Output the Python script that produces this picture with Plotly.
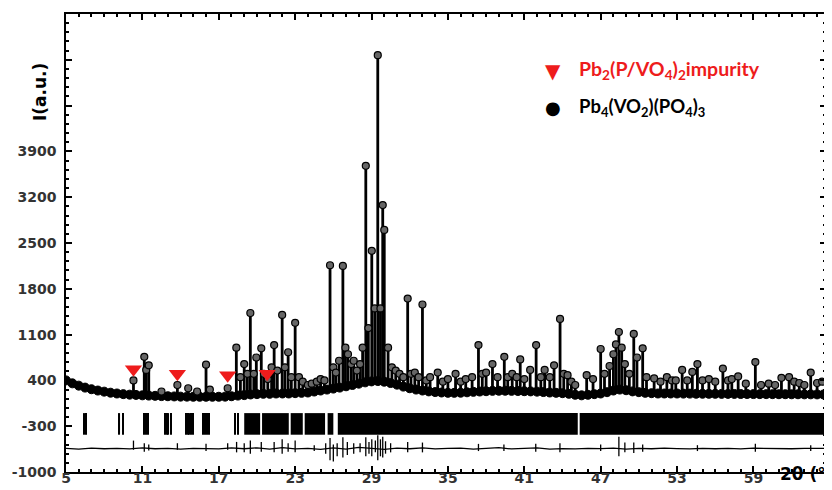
import plotly.graph_objects as go

# ---------------- axis ticks ----------------
x_tickvals = [5, 11, 17, 23, 29, 35, 41, 47, 53, 59]
y_tickvals = [-1000, -300, 400, 1100, 1800, 2500, 3200, 3900, 4600, 5300]
y_ticktext = ["-1000", "-300", "400", "1100", "1800", "2500", "3200", "3900", "", ""]

# ---------------- observed background band (2theta, intensity) ----------------
bg_2theta = [5.0, 5.5, 6.0, 6.5, 7.0, 7.5, 8.0, 8.5, 9.0, 9.5, 10.0, 10.5, 11.0, 11.5, 12.0, 12.5,
             13.0, 13.5, 14.0, 14.5, 15.0, 15.5, 16.0, 16.5, 17.0, 17.5, 18.0, 18.5, 19.0, 19.5,
             20.0, 20.5, 21.0, 21.5, 22.0, 22.5, 23.0, 23.5, 24.0, 24.5, 25.0, 25.5, 26.0, 26.5,
             27.0, 27.5, 28.0, 28.5, 29.0, 29.5, 30.0, 30.5, 31.0, 31.5, 32.0, 32.5, 33.0, 33.5,
             34.0, 34.5, 35.0, 35.5, 36.0, 36.5, 37.0, 37.5, 38.0, 38.5, 39.0, 39.5, 40.0, 40.5,
             41.0, 41.5, 42.0, 42.5, 43.0, 43.5, 44.0, 44.5, 45.0, 45.5, 46.0, 46.5, 47.0, 47.5,
             48.0, 48.5, 49.0, 49.5, 50.0, 50.5, 51.0, 51.5, 52.0, 52.5, 53.0, 53.5, 54.0, 54.5,
             55.0, 55.5, 56.0, 56.5, 57.0, 57.5, 58.0, 58.5, 59.0, 59.5, 60.0, 60.5, 61.0, 61.5,
             62.0, 62.5, 63.0, 63.5, 64.0, 64.5]
bg_counts = [400, 355, 320, 290, 265, 245, 228, 212, 200, 190, 182, 178, 172, 168, 164, 160,
             158, 155, 152, 152, 150, 150, 150, 150, 150, 152, 158, 168, 175, 185,
             190, 195, 195, 200, 200, 200, 205, 210, 215, 230, 245, 260, 275, 290,
             310, 330, 350, 370, 385, 390, 380, 360, 335, 305, 280, 260, 245, 232,
             222, 215, 210, 210, 212, 218, 225, 230, 235, 240, 242, 242, 240, 238,
             235, 232, 228, 222, 215, 210, 205, 195, 180, 172, 180, 190, 200, 220,
             245, 260, 250, 232, 220, 210, 205, 200, 200, 200, 200, 198, 198, 196,
             196, 195, 195, 194, 194, 193, 192, 192, 191, 190, 190, 190, 189, 189,
             188, 188, 187, 187, 186, 185]

# ---------------- observed Bragg peaks: position, top, foot ----------------
peak_2theta = [10.3, 11.15, 11.3, 11.5, 12.5, 13.75, 14.6, 15.3, 16.0, 16.3, 17.7, 18.38, 18.7,
               19.0, 19.25, 19.48, 19.75, 19.95, 20.34, 20.55, 20.85, 21.15, 21.35, 21.6, 21.98,
               22.2, 22.45, 22.7, 23.0, 23.3, 23.6, 24.0, 24.3, 24.7, 25.0, 25.3, 25.74, 26.0,
               26.2, 26.45, 26.75, 26.95, 27.15, 27.4, 27.6, 27.85, 28.1, 28.3, 28.55, 28.75,
               29.02, 29.25, 29.49, 29.7, 29.88, 30.0, 30.3, 30.6, 30.9, 31.2, 31.5, 31.84, 32.1,
               32.4, 32.7, 33.0, 33.3, 33.6, 34.2, 34.6, 35.0, 35.6, 36.0, 36.4, 36.9, 37.4, 37.7,
               38.0, 38.5, 38.9, 39.43, 39.7, 40.05, 40.4, 40.68, 41.0, 41.46, 41.93, 42.3, 42.6,
               43.0, 43.34, 43.81, 44.1, 44.4, 44.7, 45.0, 45.9, 46.4, 47.0, 47.3, 47.7, 48.0,
               48.2, 48.43, 48.65, 48.9, 49.25, 49.6, 49.85, 50.3, 50.6, 51.2, 51.7, 52.2, 52.6,
               52.9, 53.4, 53.8, 54.2, 54.6, 55.0, 55.5, 56.0, 56.6, 57.0, 57.3, 57.8, 58.4, 59.15,
               59.6, 60.2, 60.7, 61.2, 61.8, 62.2, 62.6, 63.0, 63.5, 64.0, 64.4]
peak_top = [400, 760, 560, 630, 230, 330, 280, 230, 640, 260, 280, 900, 450,
            650, 500, 1430, 500, 750, 890, 500, 420, 600, 940, 550, 1400,
            600, 830, 450, 1280, 450, 380, 330, 350, 380, 420, 400, 2160, 600,
            520, 700, 2150, 900, 800, 650, 700, 550, 650, 900, 3680, 1200,
            2380, 1500, 5370, 1500, 3080, 2700, 900, 600, 550, 500, 450, 1650, 500,
            520, 450, 1560, 400, 450, 520, 380, 420, 500, 380, 420, 450, 940, 500,
            520, 650, 450, 760, 450, 500, 450, 720, 420, 560, 940, 450, 560,
            450, 630, 1340, 500, 480, 380, 330, 480, 420, 880, 500, 620, 800,
            950, 1140, 900, 650, 500, 1110, 750, 890, 450, 430, 380, 450, 400,
            400, 560, 400, 530, 650, 400, 420, 380, 580, 400, 420, 460, 350, 680,
            330, 350, 330, 440, 450, 380, 360, 330, 520, 360, 380]
peak_base = [178, 170, 168, 168, 160, 155, 152, 150, 150, 150, 152, 165, 170,
             175, 180, 185, 188, 190, 193, 195, 195, 195, 198, 200, 200,
             200, 200, 200, 205, 208, 210, 215, 222, 238, 245, 252, 265, 275,
             280, 288, 300, 308, 315, 325, 335, 345, 355, 362, 370, 378,
             385, 388, 390, 388, 385, 380, 372, 360, 345, 330, 305, 285, 275,
             262, 252, 245, 238, 230, 222, 215, 210, 210, 212, 215, 222, 228, 232,
             235, 240, 242, 242, 242, 240, 238, 238, 235, 232, 228, 225, 220,
             215, 212, 208, 205, 198, 190, 180, 178, 185, 200, 210, 220, 245,
             250, 258, 255, 250, 240, 232, 225, 215, 210, 205, 200, 200, 200,
             200, 200, 198, 198, 196, 196, 195, 195, 194, 194, 193, 192, 192,
             191, 190, 190, 189, 189, 188, 188, 187, 187, 186, 185]

# ---------------- impurity markers ----------------
impurity_2theta = [10.3, 13.75, 17.7, 20.8]
impurity_counts = [570, 500, 480, 500]

# ---------------- Bragg reflection ticks ----------------
bragg_single = [6.45, 6.6, 9.2, 9.45, 11.12, 11.3, 11.45, 12.75, 12.9, 13.05, 13.22,
                14.4, 14.55, 14.7, 14.85, 15.0, 15.77, 15.9, 16.05, 16.2, 18.27, 18.52]
bragg_band_lo = [19.0, 20.4, 22.65, 23.75, 25.55, 26.35, 45.35]
bragg_band_hi = [20.25, 22.5, 23.6, 25.35, 26.0, 45.2, 64.7]
bragg_bottom, bragg_top = -430, -100

# ---------------- difference curve ----------------
diff_2theta = [5.0, 6.0, 7.0, 8.0, 9.0, 10.0, 11.0, 12.0, 13.0, 14.0, 15.0, 16.0, 17.0, 18.0,
               19.0, 20.0, 21.0, 22.0, 23.0, 24.0, 25.0, 26.0, 27.0, 28.0, 29.0, 30.0, 31.0,
               32.0, 33.0, 34.0, 35.0, 36.0, 37.0, 38.0, 39.0, 40.0, 41.0, 42.0, 43.0, 44.0,
               45.0, 46.0, 47.0, 48.0, 49.0, 50.0, 51.0, 52.0, 53.0, 54.0, 55.0, 56.0, 57.0,
               58.0, 59.0, 60.0, 61.0, 62.0, 63.0, 64.0, 64.7]
diff_counts = [-640, -650, -635, -645, -640, -648, -632, -645, -640, -650, -638, -642, -648, -632,
               -645, -630, -650, -628, -648, -640, -655, -630, -650, -625, -640, -655, -635,
               -645, -632, -648, -640, -636, -650, -640, -628, -648, -640, -632, -650, -642,
               -646, -638, -644, -635, -650, -640, -645, -636, -642, -648, -638, -645, -640,
               -646, -636, -642, -640, -645, -638, -642, -640]
dspike_2theta = [10.3, 11.15, 11.5, 13.75, 16.0, 17.7, 18.4, 19.0, 19.48, 20.34, 21.35, 21.98,
                 22.45, 23.0, 24.5, 25.4, 25.74, 26.0, 26.3, 26.75, 27.1, 27.6, 28.1, 28.55,
                 28.8, 29.02, 29.3, 29.49, 29.7, 29.88, 30.1, 30.5, 31.84, 33.0, 37.4, 39.4,
                 41.9, 43.8, 47.0, 48.43, 48.9, 49.6, 50.3, 54.6, 59.15, 63.5]
dspike_hi = [-520, -560, -580, -560, -570, -560, -540, -560, -520, -540, -540, -500,
             -560, -520, -590, -560, -480, -580, -560, -470, -540, -560, -560, -470,
             -540, -500, -520, -440, -500, -460, -530, -560, -540, -550, -570, -580,
             -570, -560, -580, -460, -550, -550, -580, -590, -570, -590]
dspike_lo = [-660, -690, -670, -660, -680, -660, -700, -700, -720, -690, -700, -720,
             -690, -700, -680, -720, -820, -840, -760, -780, -740, -720, -700, -760,
             -720, -760, -700, -820, -760, -780, -720, -700, -700, -700, -680, -680,
             -690, -700, -680, -760, -700, -710, -690, -680, -690, -680]

# ---------------- build figure ----------------
fig = go.Figure()

bx = list(bragg_single) + [(a + b) / 2 for a, b in zip(bragg_band_lo, bragg_band_hi)]
bw = [0.09] * len(bragg_single) + [b - a for a, b in zip(bragg_band_lo, bragg_band_hi)]
fig.add_trace(go.Bar(x=bx, y=[bragg_top - bragg_bottom] * len(bx), base=bragg_bottom, width=bw,
                     marker=dict(color="black", line=dict(width=0)), showlegend=False))

fig.add_trace(go.Scatter(x=diff_2theta, y=diff_counts, mode="lines",
                         line=dict(color="black", width=1.3), showlegend=False))
sx, sy = [], []
for p, h, l in zip(dspike_2theta, dspike_hi, dspike_lo):
    sx += [p, p, None]
    sy += [l, h, None]
fig.add_trace(go.Scatter(x=sx, y=sy, mode="lines", line=dict(color="black", width=1.3),
                         showlegend=False))

fig.add_trace(go.Scatter(x=bg_2theta, y=bg_counts, mode="lines+markers",
                         line=dict(color="black", width=3),
                         marker=dict(symbol="circle", size=9, color="black",
                                     line=dict(color="black", width=1)),
                         showlegend=False))

px, py = [], []
for p, t, b in zip(peak_2theta, peak_top, peak_base):
    px += [p, p, None]
    py += [b, t, None]
fig.add_trace(go.Scatter(x=px, y=py, mode="lines", line=dict(color="black", width=2.8),
                         showlegend=False))
fig.add_trace(go.Scatter(x=peak_2theta, y=peak_top, mode="markers",
                         marker=dict(symbol="circle", size=7, color="#666",
                                     line=dict(color="black", width=1.2)),
                         showlegend=False))

fig.add_trace(go.Scatter(x=impurity_2theta, y=impurity_counts, mode="markers",
                         marker=dict(symbol="triangle-down", size=15, color="#ee1c1c",
                                     line=dict(width=0)),
                         showlegend=False))

tickfont = dict(family="DejaVu Sans", size=14, color="#333", weight="bold")
fig.update_xaxes(range=[5, 64.7], tickmode="array", tickvals=x_tickvals,
                 showline=True, linecolor="black", linewidth=1.5, mirror="ticks",
                 ticks="inside", ticklen=6, tickwidth=1.5, tickcolor="black",
                 minor=dict(ticks="inside", ticklen=3, dtick=1, tick0=5, tickcolor="black"),
                 showgrid=False, zeroline=False, tickfont=tickfont, ticklabelstandoff=-8)
fig.update_yaxes(range=[-1000, 6000], tickmode="array", tickvals=y_tickvals, ticktext=y_ticktext,
                 showline=True, linecolor="black", linewidth=1.5, mirror="ticks",
                 ticks="inside", ticklen=6, tickwidth=1.5, tickcolor="black",
                 minor=dict(ticks="inside", ticklen=3, dtick=140, tick0=-1000, tickcolor="black"),
                 showgrid=False, zeroline=False, tickfont=tickfont, ticklabelstandoff=5)

def ann(text, x, y, font, xanchor="center", angle=0):
    return dict(text=text, x=x, y=y, xref="paper", yref="paper", xanchor=xanchor,
                yanchor="middle", textangle=angle, showarrow=False, font=font)

annotations = [
    ann("<b>I(a.u.)</b>", -0.034, 0.83, dict(family="DejaVu Sans", size=17, color="black"), angle=-90),
    ann("<b>2θ (°)</b>", 0.937, -0.004, dict(family="DejaVu Sans", size=17, color="black"), xanchor="left"),
    ann("▼", 0.6405, 0.876, dict(family="DejaVu Sans", size=20, color="#ee1c1c")),
    ann("●", 0.6405, 0.796, dict(family="DejaVu Sans", size=18, color="black")),
    ann("<b>Pb<sub>2</sub>(P/VO<sub>4</sub>)<sub>2</sub>impurity</b>", 0.672, 0.878,
        dict(family="Lato", size=19.5, color="#ee1c1c"), xanchor="left"),
    ann("<b>Pb<sub>4</sub>(VO<sub>2</sub>)(PO<sub>4</sub>)<sub>3</sub></b>", 0.672, 0.796,
        dict(family="Lato", size=18.5, color="black"), xanchor="left"),
]

# page body has an 8px default margin: compensate so the plot area sits where the reference has it
fig.update_layout(width=824, height=482, margin=dict(l=55, r=4, t=6, b=17),
                  paper_bgcolor="white", plot_bgcolor="white", barmode="overlay",
                  annotations=annotations, showlegend=False)

fig.write_html("out.html")
